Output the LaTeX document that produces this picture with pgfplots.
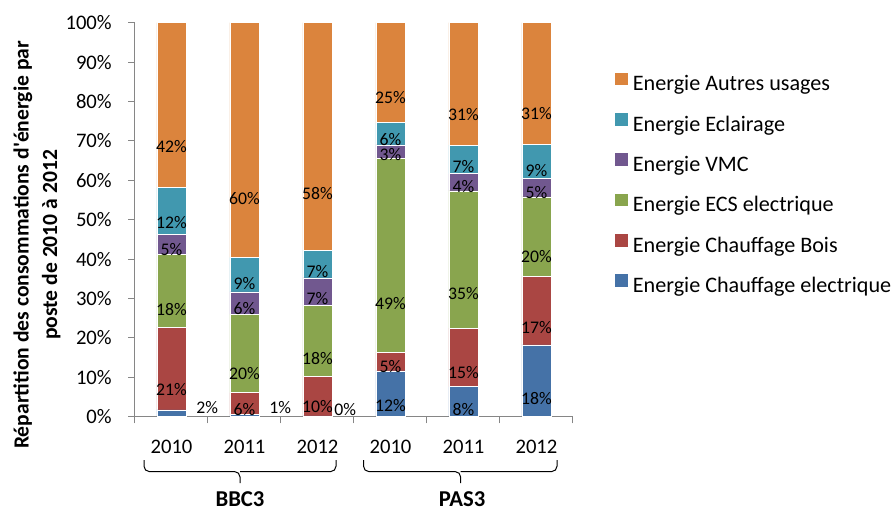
\documentclass[border=0pt]{standalone}
\usepackage{pgfplots}
\pgfplotsset{compat=1.18}
\usepackage{pgfplotstable}
\usepackage{fontspec}
\setmainfont{Carlito}
\definecolor{celec}{HTML}{4572A7}
\definecolor{cbois}{HTML}{AA4643}
\definecolor{cecs}{HTML}{89A54E}
\definecolor{cvmc}{HTML}{71588F}
\definecolor{cecl}{HTML}{4198AF}
\definecolor{cautres}{HTML}{DB843D}
\definecolor{axisgray}{HTML}{868686}
\pgfkeys{/pgf/number format/assume math mode=true}
\pgfplotstableread{
x elec bois ecs vmc ecl autres
0 1.7 21.0 18.4 5.1 11.9 41.9
1 0.5 5.6 19.9 5.7 8.7 59.6
2 0.2 10.0 18.0 7.0 7.0 57.8
3 11.6 4.8 49.2 3.4 5.6 25.4
4 7.6 14.9 34.8 4.4 7.2 31.1
5 18.2 17.4 20.2 4.6 8.7 30.9
}\datatable
\pgfplotsset{
  seg/.style={
    visualization depends on={\thisrow{#1} \as \segval},
    nodes near coords={\pgfmathprintnumber[fixed,precision=0]{\segval}\%}
  },
  sq/.style={legend image code/.code={\path[##1,draw=none] (0pt,0.5pt) rectangle (9.5pt,10pt);}}
}
\begin{document}
\begin{tikzpicture}
\begin{axis}[
  at={(0,0)}, anchor=south west,
  scale only axis, width=328.5pt, height=295.5pt,
  ybar stacked, bar width=21.75pt,
  xmin=-0.5, xmax=5.5, ymin=0, ymax=100,
  axis lines*=left,
  axis line style={draw=axisgray, line width=0.75pt},
  tick style={draw=axisgray, line width=0.75pt},
  tick align=outside,
  major tick length=5pt, minor tick length=5pt,
  ytick={0,10,...,100},
  yticklabels={0\%,10\%,20\%,30\%,40\%,50\%,60\%,70\%,80\%,90\%,100\%},
  xtick={0,...,5},
  xticklabels={2010,2011,2012,2010,2011,2012},
  minor xtick={-0.5,0.5,...,5.5},
  major x tick style={draw=none},
  yticklabel style={anchor=east, inner sep=0pt, xshift=-12.25pt, font=\fontsize{15.5}{18}\selectfont},
  xticklabel style={anchor=center, inner sep=0pt, yshift=-18pt, font=\fontsize{15.5}{18}\selectfont},
  nodes near coords style={font=\fontsize{13.3}{15}\selectfont, text=black, anchor=center, inner sep=0pt, yshift={-0.73875pt*\segval}},
  legend style={at={(1.0959,0.588)}, anchor=west, draw=none, fill=none,
    font=\fontsize{16.6}{19}\selectfont, row sep=13pt, inner sep=0pt,
    nodes={inner sep=0pt, text height=11pt, text depth=3.5pt},
    /tikz/every odd column/.append style={column sep=3.75pt}},
  legend cell align=left, reverse legend,
]
\addplot[fill=celec, draw=white, line width=0.4pt, sq,
  visualization depends on={\thisrow{elec} \as \segval},
  visualization depends on={\thisrow{x} \as \xv},
  nodes near coords={\ifdim\xv pt>2pt \pgfmathprintnumber[fixed,precision=0]{\segval}\%\fi}]
  table[x=x, y=elec] {\datatable};
\addlegendentry{Energie Chauffage electrique}
\addplot[fill=cbois, draw=white, line width=0.4pt, sq, seg=bois] table[x=x, y=bois] {\datatable};
\addlegendentry{Energie Chauffage Bois}
\addplot[fill=cecs, draw=white, line width=0.4pt, sq, seg=ecs] table[x=x, y=ecs] {\datatable};
\addlegendentry{Energie ECS electrique}
\addplot[fill=cvmc, draw=white, line width=0.4pt, sq, seg=vmc] table[x=x, y=vmc] {\datatable};
\addlegendentry{Energie VMC}
\addplot[fill=cecl, draw=white, line width=0.4pt, sq, seg=ecl] table[x=x, y=ecl] {\datatable};
\addlegendentry{Energie Eclairage}
\addplot[fill=cautres, draw=white, line width=0.4pt, sq, seg=autres] table[x=x, y=autres] {\datatable};
\addlegendentry{Energie Autres usages}
\node[font=\fontsize{13.3}{15}\selectfont, inner sep=0pt] at (axis cs:0.49,2.3) {2\%};
\node[font=\fontsize{13.3}{15}\selectfont, inner sep=0pt] at (axis cs:1.49,2.4) {1\%};
\node[font=\fontsize{13.3}{15}\selectfont, inner sep=0pt] at (axis cs:2.38,1.8) {0\%};
\end{axis}
% y axis title
\node[rotate=90, align=center, font=\bfseries\fontsize{16.2}{21.4}\selectfont] at (-73.5pt,128.8pt)
  {Répartition des consommations d\textquotesingle énergie par\\poste de 2010 à 2012};
% group brackets
\draw[black, line width=0.75pt, rounded corners=4pt] (6.75pt,-32.5pt) -- (6.75pt,-41.2pt) -- (78.75pt,-41.2pt) -- (78.75pt,-49.8pt);
\draw[black, line width=0.75pt, rounded corners=4pt] (150.75pt,-32.5pt) -- (150.75pt,-41.2pt) -- (78.75pt,-41.2pt);
\draw[black, line width=0.75pt, rounded corners=4pt] (171.4pt,-32.5pt) -- (171.4pt,-41.2pt) -- (244.2pt,-41.2pt) -- (244.2pt,-49.8pt);
\draw[black, line width=0.75pt, rounded corners=4pt] (316.5pt,-32.5pt) -- (316.5pt,-41.2pt) -- (244.2pt,-41.2pt);
\node[font=\bfseries\fontsize{17}{19}\selectfont, inner sep=0pt] at (78.75pt,-61.6pt) {BBC3};
\node[font=\bfseries\fontsize{17}{19}\selectfont, inner sep=0pt] at (245.25pt,-61.6pt) {PAS3};
\pgfresetboundingbox
\path (-101.25pt,-70.75pt) rectangle (570.75pt,312.5pt);
\end{tikzpicture}
\end{document}
